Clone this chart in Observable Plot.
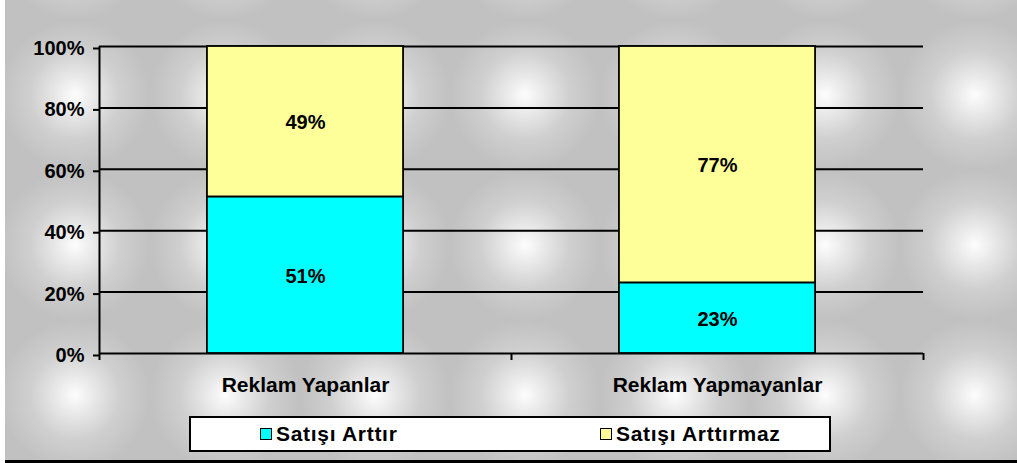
<!DOCTYPE html>
<html>
<head>
<meta charset="utf-8">
<script src="https://cdn.jsdelivr.net/npm/d3@7"></script>
<script src="https://cdn.jsdelivr.net/npm/@observablehq/plot@0.6"></script>
<style>
  html, body { margin: 0; padding: 0; background: #ffffff; }
  body { width: 1017px; height: 463px; position: relative; overflow: hidden;
         font-family: "Liberation Sans", Arial, sans-serif; }
  #bg { position: absolute; left: 5px; top: 0; width: 1012px; height: 460px;
        border-bottom: 3px solid #000;
        background-color: #c1c1c1;
        background-image: radial-gradient(closest-side, #fdfdfd 0%, #e9e9e9 25%, #cfcfcf 60%, #c1c1c1 100%);
        background-size: 150px 150px;
        background-position: -5px 20px; }
  #chart { position: absolute; left: 0; top: 0; }
  #legend { position: absolute; left: 189px; top: 416px; width: 638px; height: 32px;
            background: #fff; border: 2px solid #000; }
  .item { position: absolute; top: 0; height: 32px; display: flex; align-items: center;
          font-size: 21px; font-weight: bold; color: #000; letter-spacing: 0.7px; }
  .sw { width: 10px; height: 10px; border: 1px solid #000; margin-right: 4px; }
</style>
</head>
<body>
<div id="bg"></div>
<div id="chart"></div>
<div id="legend"></div>
<script>
const categories = ["Reklam Yapanlar", "Reklam Yapmayanlar"];
const seriesNames = ["Satışı Arttır", "Satışı Arttırmaz"];
const satisiArttir = [0.51, 0.23];
const satisiArttirmaz = [0.49, 0.77];
const seriesColors = ["#00FFFF", "#FFFF99"];
const yTicks = [0, 0.2, 0.4, 0.6, 0.8, 1.0];
const yTickLabels = ["0%", "20%", "40%", "60%", "80%", "100%"];

const seriesValues = [satisiArttir, satisiArttirmaz];
const rows = [];
categories.forEach((cat, i) => {
  let acc = 0;
  seriesNames.forEach((s, k) => {
    const v = seriesValues[k][i];
    rows.push({i, category: cat, series: s, value: v, y1: acc, y2: acc + v});
    acc += v;
  });
});

const barHalf = 0.238;

const chart = Plot.plot({
  width: 1017,
  height: 405,
  marginLeft: 99,
  marginRight: 94,
  marginTop: 46,
  marginBottom: 52,
  x: {type: "linear", domain: [0, categories.length]},
  y: {domain: [0, 1]},
  color: {domain: seriesNames, range: seriesColors},
  style: {background: "transparent", fontFamily: "'Liberation Sans', Arial, sans-serif",
          fontSize: "20px", fontWeight: "bold", color: "#000", overflow: "visible"},
  marks: [
    Plot.ruleY(yTicks, {stroke: "#000", strokeWidth: 2}),
    Plot.rectY(rows, {
      x1: d => d.i + 0.5 - barHalf,
      x2: d => d.i + 0.5 + barHalf,
      y1: "y1", y2: "y2",
      fill: "series", stroke: "#000", strokeWidth: 1.8
    }),
    Plot.text(rows, {
      x: d => d.i + 0.5,
      y: d => (d.y1 + d.y2) / 2,
      text: d => Math.round(d.value * 100) + "%",
      fontSize: 20, fontWeight: "bold", fill: "#000", dy: 1
    }),
    Plot.ruleX([0], {stroke: "#000", strokeWidth: 2}),
    Plot.axisY({ticks: yTicks, tickFormat: (d, j) => yTickLabels[j], tickSize: 6, tickPadding: 9,
                label: null, fontSize: 20, fontWeight: "bold", strokeWidth: 2, dy: 2}),
    Plot.axisX({ticks: [0, 1, 2], tickFormat: () => "", tickSize: 7, label: null, strokeWidth: 2}),
    Plot.axisX({ticks: categories.map((c, i) => i + 0.5), tickFormat: d => categories[Math.floor(d)],
                tickSize: 0, tickPadding: 24, label: null, fontSize: 21, fontWeight: "bold"})
  ]
});
document.getElementById("chart").appendChild(chart);

const legend = document.getElementById("legend");
const legendLefts = [69, 409];
seriesNames.forEach((s, k) => {
  const item = document.createElement("div");
  item.className = "item";
  item.style.left = legendLefts[k] + "px";
  const sw = document.createElement("div");
  sw.className = "sw";
  sw.style.background = seriesColors[k];
  item.appendChild(sw);
  const t = document.createElement("span");
  t.textContent = s;
  item.appendChild(t);
  legend.appendChild(item);
});
</script>
</body>
</html>
